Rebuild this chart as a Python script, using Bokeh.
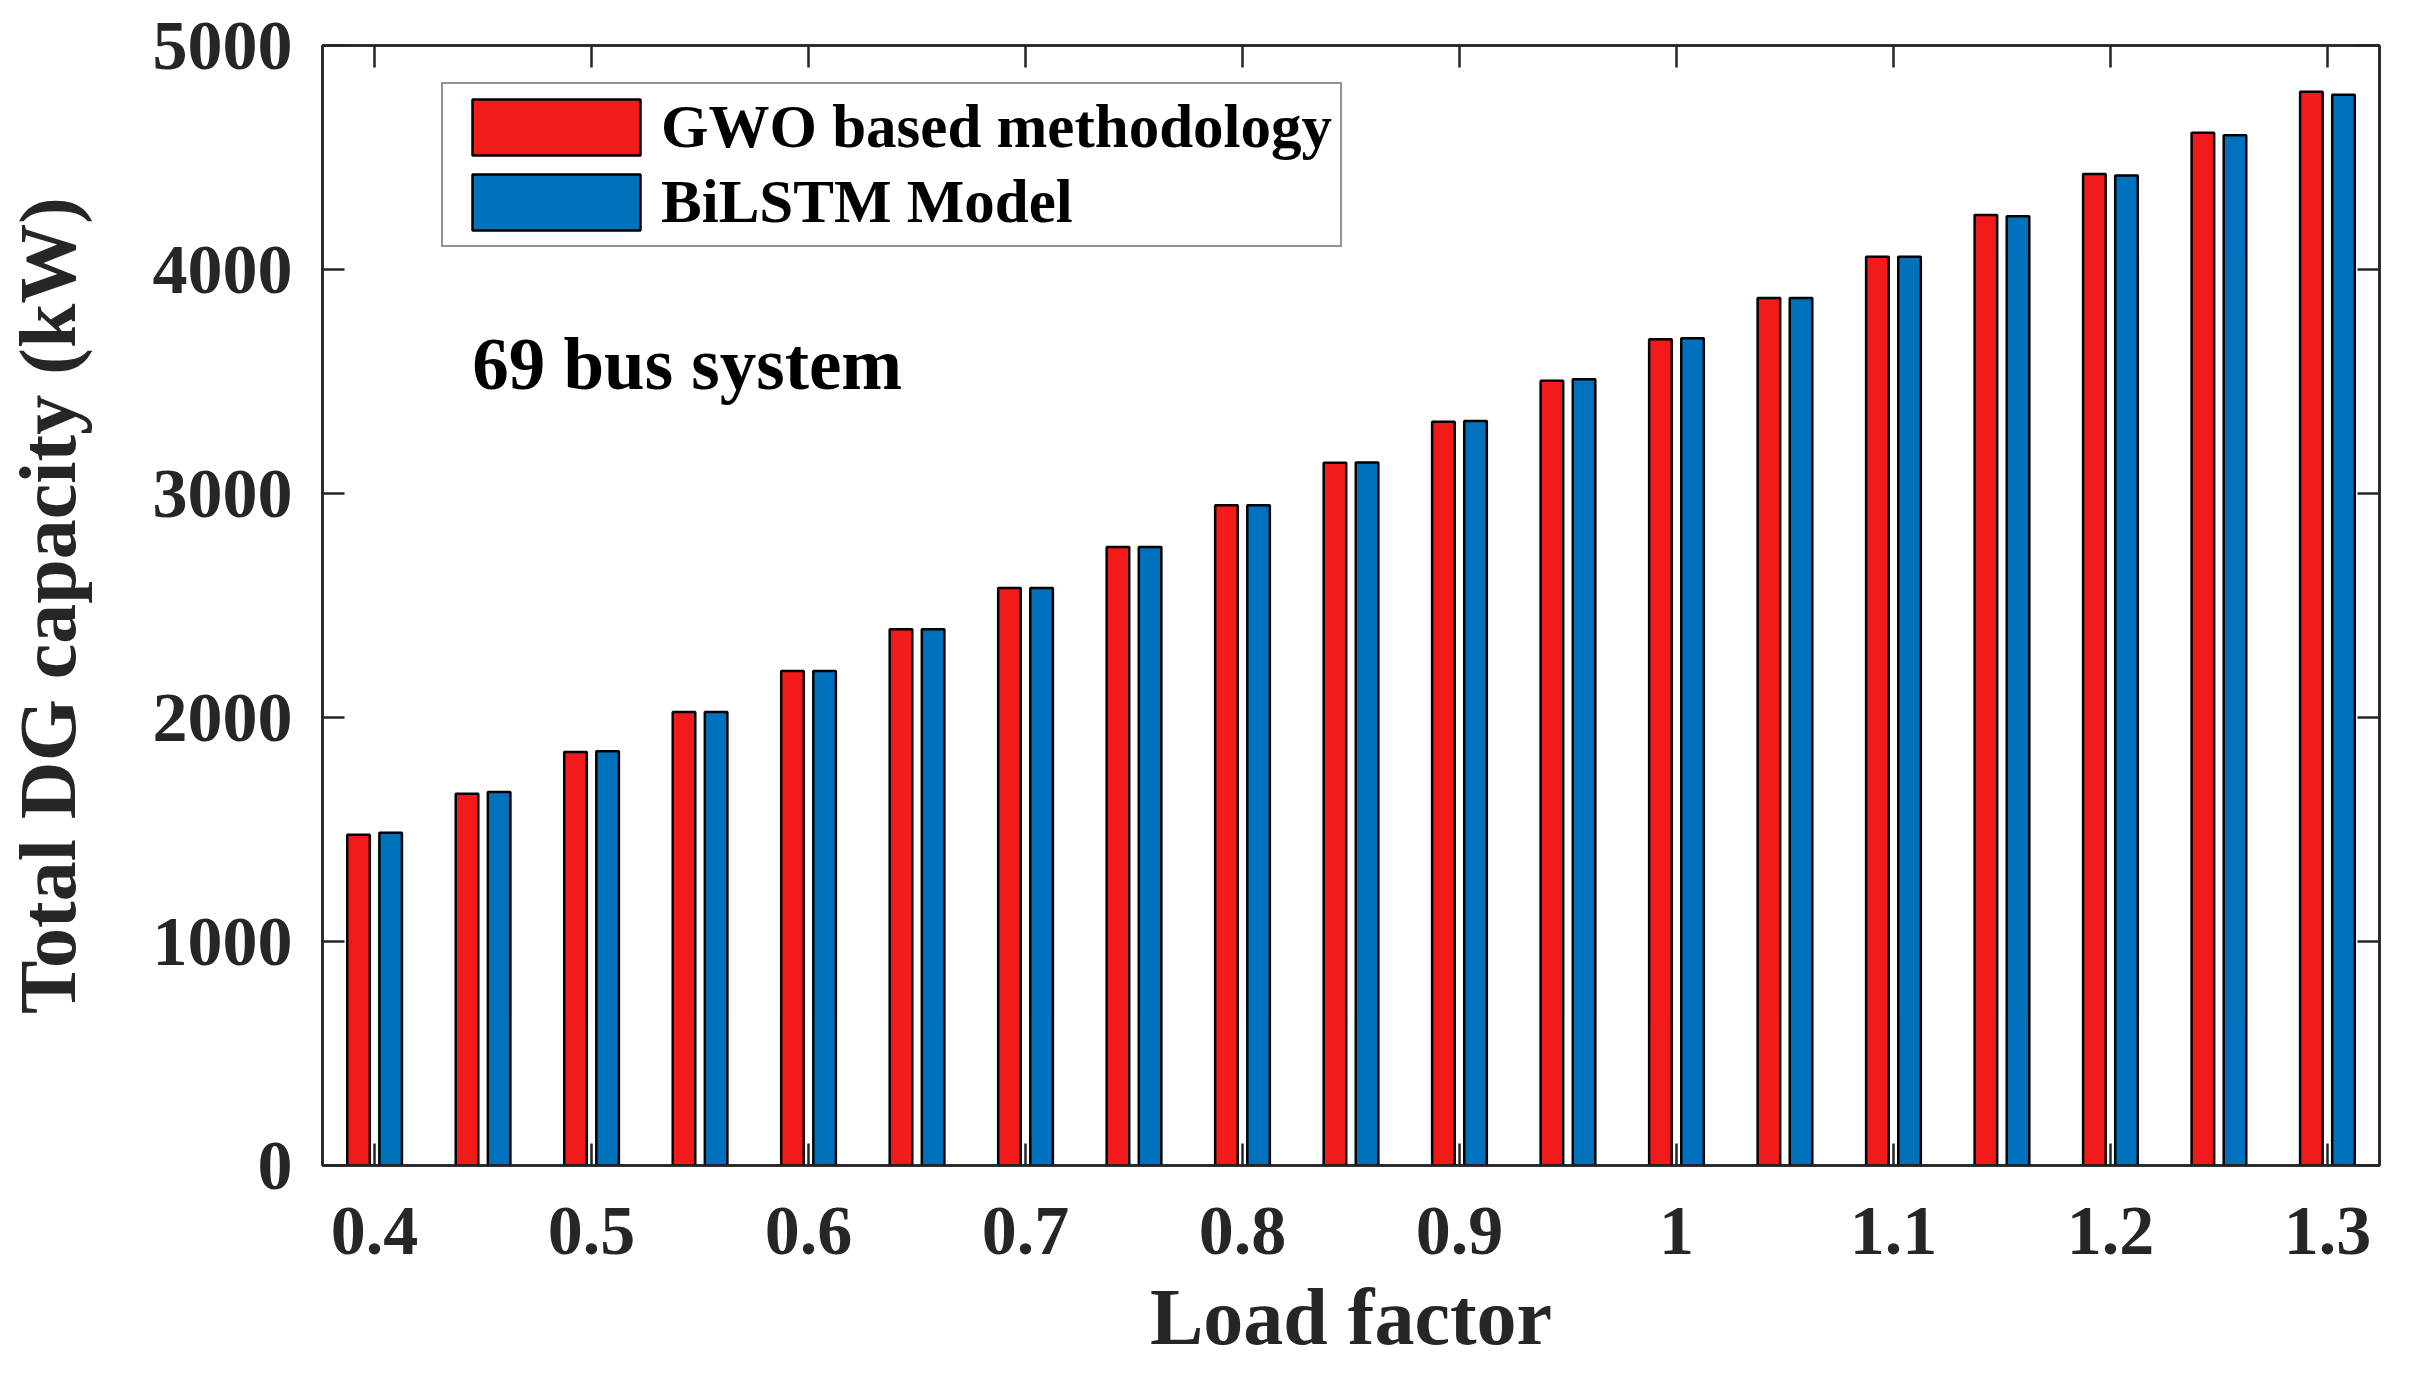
import numpy as np
from bokeh.plotting import figure
from bokeh.embed import file_html
from bokeh.resources import INLINE
from bokeh.models import Range1d, LinearAxis, FixedTicker, Label

# Data
load_factor = [0.4, 0.45, 0.5, 0.55, 0.6, 0.65, 0.7, 0.75, 0.8, 0.85,
               0.9, 0.95, 1.0, 1.05, 1.1, 1.15, 1.2, 1.25, 1.3]
gwo_capacity = [1477, 1660, 1846, 2024, 2208, 2394, 2578, 2761, 2948, 3137,
                3320, 3503, 3689, 3873, 4057, 4243, 4426, 4610, 4793]
bilstm_capacity = [1486, 1667, 1849, 2024, 2208, 2394, 2578, 2761, 2948, 3138,
                   3324, 3510, 3693, 3873, 4057, 4238, 4420, 4599, 4780]
x_ticks = [0.4, 0.5, 0.6, 0.7, 0.8, 0.9, 1.0, 1.1, 1.2, 1.3]
x_tick_labels = ["0.4", "0.5", "0.6", "0.7", "0.8", "0.9", "1", "1.1", "1.2", "1.3"]
y_ticks = [0, 1000, 2000, 3000, 4000, 5000]

FONT = "Liberation Serif"
AXIS_COLOR = "#262626"
RED = "#F21A1A"
BLUE = "#0072BD"

p = figure(
    width=2398,
    height=1367,
    x_range=Range1d(0.376, 1.324),
    y_range=Range1d(0, 5000),
    output_backend="svg",
    toolbar_location=None,
    min_border_left=317,
    min_border_right=19,
    min_border_top=45,
    min_border_bottom=202,
)
p.xgrid.visible = False
p.ygrid.visible = False
p.outline_line_color = AXIS_COLOR
p.outline_line_width = 2.5

# grouped bars: red slightly left of the tick, blue slightly right
x = np.array(load_factor)
offset = 0.0074
bar_w = 0.0104
p.vbar(x=x - offset, top=gwo_capacity, width=bar_w, fill_color=RED,
       line_color="black", line_width=2.5, legend_label="GWO based methodology")
p.vbar(x=x + offset, top=bilstm_capacity, width=bar_w, fill_color=BLUE,
       line_color="black", line_width=2.5, legend_label="BiLSTM Model")


def style_axis(ax, ticks, show_labels=True):
    ax.ticker = FixedTicker(ticks=ticks)
    ax.minor_tick_line_color = None
    ax.major_tick_in = 22
    ax.major_tick_out = 0
    ax.major_tick_line_width = 2.5
    ax.major_tick_line_color = AXIS_COLOR
    ax.axis_line_color = AXIS_COLOR
    ax.axis_line_width = 2.5
    ax.major_label_text_font = FONT
    ax.major_label_text_font_style = "bold"
    ax.major_label_text_color = AXIS_COLOR
    ax.major_label_text_font_size = "70px"
    if not show_labels:
        # mirror axis: ticks only, no labels drawn
        ax.major_label_text_font_size = "1px"
        ax.major_label_text_color = None
        ax.major_label_standoff = 0


# bottom / left axes
style_axis(p.xaxis[0], x_ticks)
p.xaxis[0].major_label_overrides = dict(zip(x_ticks, x_tick_labels))
p.xaxis[0].major_label_standoff = 42
p.xaxis[0].axis_label = "Load factor"
p.xaxis[0].axis_label_standoff = 16

style_axis(p.yaxis[0], y_ticks)
p.yaxis[0].major_label_standoff = 30
p.yaxis[0].axis_label = "Total DG capacity (kW)"
p.yaxis[0].axis_label_standoff = 58

for ax in (p.xaxis[0], p.yaxis[0]):
    ax.axis_label_text_font = FONT
    ax.axis_label_text_font_style = "bold"
    ax.axis_label_text_font_size = "80px"
    ax.axis_label_text_color = AXIS_COLOR

# mirrored tick marks on top and right (box on)
top_axis = LinearAxis()
style_axis(top_axis, x_ticks, show_labels=False)
p.add_layout(top_axis, "above")
right_axis = LinearAxis()
style_axis(right_axis, y_ticks, show_labels=False)
p.add_layout(right_axis, "right")

# annotation
p.add_layout(Label(x=0.445, y=3575, text="69 bus system", text_font=FONT,
                   text_font_style="bold", text_font_size="73px",
                   text_color="black", text_baseline="alphabetic"))

# legend
leg = p.legend[0]
leg.location = (119, 918)
leg.glyph_width = 210
leg.glyph_height = 70
leg.label_standoff = 0
leg.padding = 8
leg.spacing = 5
leg.label_text_font = FONT
leg.label_text_font_style = "bold"
leg.label_text_font_size = "61px"
leg.label_text_color = "black"
leg.border_line_color = AXIS_COLOR
leg.border_line_width = 2
leg.background_fill_color = "white"
leg.background_fill_alpha = 1.0

open("out.html", "w").write(file_html(p, INLINE))
